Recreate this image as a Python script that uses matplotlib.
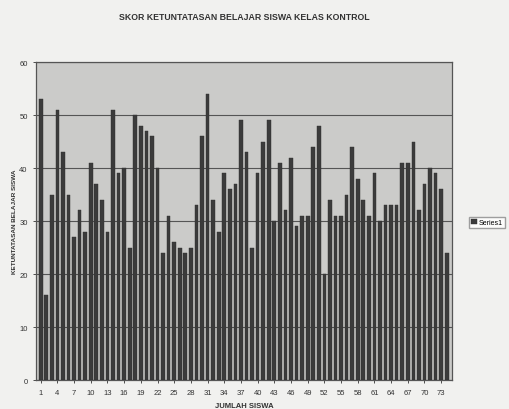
import numpy as np
import matplotlib.pyplot as plt

plt.rcParams['font.family'] = ['Liberation Sans', 'DejaVu Sans']

# skor tiap siswa kelas kontrol
siswa = np.arange(1, 75)
skor = [53, 16, 35, 51, 43, 35, 27, 32, 28, 41,
        37, 34, 28, 51, 39, 40, 25, 50, 48, 47,
        46, 40, 24, 31, 26, 25, 24, 25, 33, 46,
        54, 34, 28, 39, 36, 37, 49, 43, 25, 39,
        45, 49, 30, 41, 32, 42, 29, 31, 31, 44,
        48, 20, 34, 31, 31, 35, 44, 38, 34, 31,
        39, 30, 33, 33, 33, 41, 41, 45, 32, 37,
        40, 39, 36, 24]
label_x = list(range(1, 75, 3))

fig = plt.figure(figsize=(5.09, 4.10), dpi=100, facecolor='#f1f1ef')
ax = fig.add_axes([0.0707, 0.0707, 0.8173, 0.7753])
ax.set_facecolor('#cbcbc9')

ax.bar(siswa, skor, width=0.66, color='#3b3b3b', edgecolor='#2e2e2e',
       linewidth=0.3, label='Series1', zorder=3)

ax.set_xlim(0.15, 74.95)
ax.set_ylim(0, 60)
ax.set_yticks(range(0, 61, 10))
ax.set_xticks(label_x)
ax.set_xticklabels([str(v) for v in label_x])
ax.yaxis.grid(True, color='#555555', linewidth=0.8, zorder=1)

for s in ax.spines.values():
    s.set_color('#555555')
    s.set_linewidth(0.9)

ax.tick_params(axis='both', labelsize=5.5, colors='#333333', length=2.5, width=0.6)
ax.tick_params(axis='x', pad=4)

ax.set_title('SKOR KETUNTATASAN BELAJAR SISWA KELAS KONTROL', fontsize=6.3,
             fontweight='bold', color='#333333', pad=31)
ax.set_xlabel('JUMLAH SISWA', fontsize=5.5, fontweight='bold', color='#333333', labelpad=4)
ax.set_ylabel('KETUNTATASAN BELAJAR SISWA', fontsize=4.6, fontweight='bold',
              color='#333333', labelpad=2)

fig.legend(loc='center left', bbox_to_anchor=(0.922, 0.455), fontsize=5,
           frameon=True, fancybox=False, edgecolor='#888888', handlelength=0.8,
           handleheight=0.8, borderpad=0.3, handletextpad=0.3, borderaxespad=0)

fig.savefig('out.png', dpi=100, facecolor=fig.get_facecolor())
